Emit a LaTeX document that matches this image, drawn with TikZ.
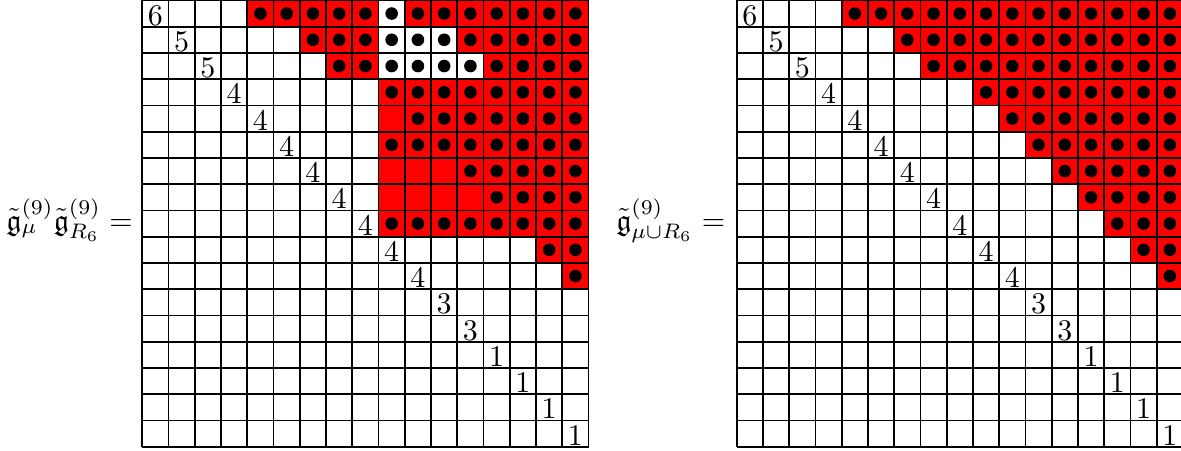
\documentclass[tikz,border=0pt]{standalone}
\usepackage{amssymb}
\tikzset{
  gridline/.style={line width=0.6pt, black},
  redcell/.style={fill={rgb,255:red,255;green,0;blue,0}},
  dotmark/.style={fill=black},
  diaglabel/.style={anchor=base, inner sep=0pt},
  formula/.style={anchor=base east, inner sep=0pt}
}
\newcommand\cs{26.25}
% red cells: x0, row, first col, last col
\newcommand\redrun[4]{\fill[redcell] ({#1+\cs*#3},{0.4+\cs*#2}) rectangle ({#1+\cs*(#4+1)},{0.4+\cs*(#2+1)});}
\newcommand\dotrun[4]{\foreach \c in {#3,...,#4} {\fill[dotmark] ({#1+\cs*(\c+0.5)},{0.4+\cs*(#2+0.5)}) circle[radius=2.1pt];}}
\newcommand\drawgrid[1]{%
  \foreach \i in {0,...,17} {
    \draw[gridline] ({#1+\i*\cs},0.4) -- ({#1+\i*\cs},{0.4+17*\cs});
    \draw[gridline] (#1,{0.4+\i*\cs}) -- ({#1+17*\cs},{0.4+\i*\cs});
  }
  \foreach \i/\l in {0/6,1/5,2/5,3/4,4/4,5/4,6/4,7/4,8/4,9/4,10/4,11/3,12/3,13/1,14/1,15/1,16/1} {
    \node[diaglabel] at ({#1+(\i+0.5)*\cs},{0.4+(\i+1)*\cs-1.5}) {$\l$};
  }
}
\begin{document}
\begin{tikzpicture}[x=0.333333pt,y=-0.333333pt]
\useasboundingbox (0,0) rectangle (1181,450);
% ---------- left grid ----------
\def\xa{142.3}
\redrun{\xa}{0}{4}{8}\redrun{\xa}{0}{10}{16}
\redrun{\xa}{1}{6}{8}\redrun{\xa}{1}{12}{16}
\redrun{\xa}{2}{7}{8}\redrun{\xa}{2}{13}{16}
\foreach \r in {3,...,8} {\redrun{\xa}{\r}{9}{16}}
\redrun{\xa}{9}{15}{16}
\redrun{\xa}{10}{16}{16}
\dotrun{\xa}{0}{4}{16}
\dotrun{\xa}{1}{6}{16}
\dotrun{\xa}{2}{7}{16}
\dotrun{\xa}{3}{9}{16}
\dotrun{\xa}{4}{10}{16}
\dotrun{\xa}{5}{9}{16}
\dotrun{\xa}{6}{12}{16}
\dotrun{\xa}{7}{13}{16}
\dotrun{\xa}{8}{9}{16}
\dotrun{\xa}{9}{15}{16}
\dotrun{\xa}{10}{16}{16}
\drawgrid{\xa}
\node[formula] (lhs1) at (133.4,230) {$\tilde{\mathfrak{g}}^{(9)}_{\mu}\tilde{\mathfrak{g}}^{(9)}_{R_6} =$};
% ---------- right grid ----------
\def\xb{736.7}
\redrun{\xb}{0}{4}{16}\dotrun{\xb}{0}{4}{16}
\redrun{\xb}{1}{6}{16}\dotrun{\xb}{1}{6}{16}
\redrun{\xb}{2}{7}{16}\dotrun{\xb}{2}{7}{16}
\foreach \r in {3,...,10} {
  \pgfmathtruncatemacro\s{\r+6}
  \redrun{\xb}{\r}{\s}{16}\dotrun{\xb}{\r}{\s}{16}
}
\drawgrid{\xb}
\node[formula] (lhs2) at (725.7,230) {$\tilde{\mathfrak{g}}^{(9)}_{\mu\cup R_6} =$};
\end{tikzpicture}
\end{document}
